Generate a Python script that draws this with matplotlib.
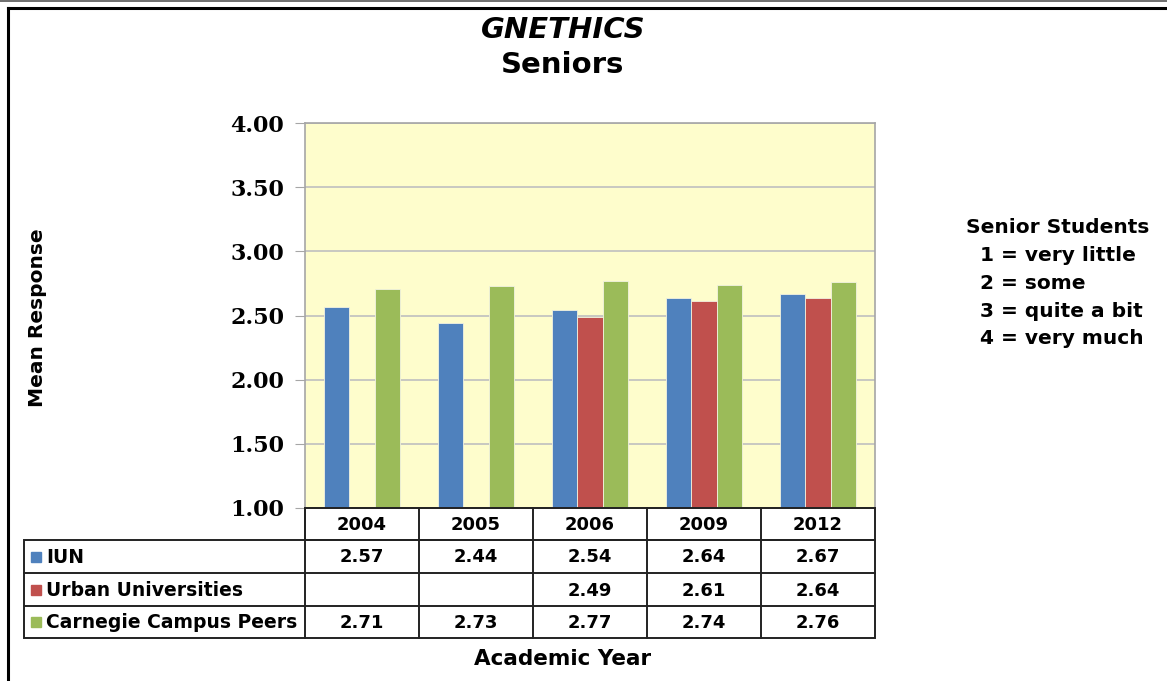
import numpy as np
import matplotlib.pyplot as plt
from matplotlib.lines import Line2D
from matplotlib.patches import Rectangle

years = ["2004", "2005", "2006", "2009", "2012"]
series = ["IUN", "Urban Universities", "Carnegie Campus Peers"]
iun = [2.57, 2.44, 2.54, 2.64, 2.67]
urban = [np.nan, np.nan, 2.49, 2.61, 2.64]
carnegie = [2.71, 2.73, 2.77, 2.74, 2.76]
colors = ["#4F81BD", "#C0504D", "#9BBB59"]
yticks = [1.0, 1.5, 2.0, 2.5, 3.0, 3.5, 4.0]
scale_lines = ["Senior Students", "  1 = very little", "  2 = some", "  3 = quite a bit", "  4 = very much"]

W, H = 1167, 681
fig = plt.figure(figsize=(W / 100, H / 100), dpi=100)
fig.patch.set_facecolor("white")

def fx(px):
    return px / W

def fy(py):
    return 1 - py / H

# outer frame lines
fig.add_artist(Line2D([0, 1], [fy(0.8), fy(0.8)], color="#555555", lw=1.2))
fig.add_artist(Line2D([fx(8), 1], [fy(8), fy(8)], color="black", lw=2.2))
fig.add_artist(Line2D([fx(8), fx(8)], [fy(8), 0], color="black", lw=2.2))

# main bar chart
x0, x1, ytop, ybot = 305, 875, 123, 508
ax = fig.add_axes([fx(x0), fy(ybot), fx(x1 - x0), (ybot - ytop) / H])
ax.set_facecolor("#FEFDCC")
x = np.arange(len(years))
bw = 0.22
for i, (vals, c) in enumerate(zip([iun, urban, carnegie], colors)):
    v = np.array(vals, dtype=float)
    ok = ~np.isnan(v)
    ax.bar(x[ok] + (i - 1) * bw, v[ok], bw, color=c, edgecolor="#F2F2E0", lw=0.6, zorder=3)
ax.set_xlim(-0.5, len(years) - 0.5)
ax.set_ylim(1.0, 4.0)
ax.set_yticks(yticks)
ax.set_yticklabels([f"{t:.2f}" for t in yticks], fontfamily="DejaVu Serif",
                   fontweight="bold", fontsize=16)
ax.set_xticks([])
ax.tick_params(axis="y", length=7, color="#A6A6A6", pad=8)
ax.grid(axis="y", color="#BFBFBF", lw=1.2, zorder=0)
for s in ax.spines.values():
    s.set_color("#A6A6A6")
    s.set_linewidth(1.2)

# data table below the chart
tab = fig.add_axes([0, 0, 1, 1])
tab.set_xlim(0, W)
tab.set_ylim(H, 0)
tab.axis("off")
col_w = (x1 - x0) / len(years)
row_tops = [508, 540, 573, 606, 638]
lab_x = 24
lc = "#222222"
# header row
tab.add_patch(Rectangle((x0, row_tops[0]), x1 - x0, row_tops[1] - row_tops[0],
                        fill=False, ec=lc, lw=1.4))
for j, yr in enumerate(years):
    cx = x0 + (j + 0.5) * col_w
    tab.text(cx, (row_tops[0] + row_tops[1]) / 2 + 1, yr, ha="center", va="center",
             fontsize=13, fontweight="bold")
    tab.plot([x0 + j * col_w] * 2, [row_tops[0], row_tops[-1]], color=lc, lw=1.4)
# body rows
tab.add_patch(Rectangle((lab_x, row_tops[1]), x1 - lab_x, row_tops[-1] - row_tops[1],
                        fill=False, ec=lc, lw=1.4))
for i, (name, vals, c) in enumerate(zip(series, [iun, urban, carnegie], colors)):
    top, bot = row_tops[i + 1], row_tops[i + 2]
    cy = (top + bot) / 2
    if i > 0:
        tab.plot([lab_x, x1], [top, top], color=lc, lw=1.4)
    tab.add_patch(Rectangle((31, cy - 5), 10, 10, color=c))
    tab.text(46, cy + 1, name, ha="left", va="center", fontsize=13.5, fontweight="bold")
    for j, v in enumerate(vals):
        if not np.isnan(v):
            tab.text(x0 + (j + 0.5) * col_w, cy + 1, f"{v:.2f}", ha="center", va="center",
                     fontsize=13, fontweight="bold")

# titles and labels
fig.text(fx(563), fy(30), "GNETHICS", ha="center", va="center", fontsize=21,
         fontweight="bold", style="italic")
fig.text(fx(563), fy(65), "Seniors", ha="center", va="center", fontsize=21, fontweight="bold")
fig.text(fx(38), fy(318), "Mean Response", ha="center", va="center", rotation=90,
         fontsize=14.5, fontweight="bold")
fig.text(fx(563), fy(659), "Academic Year", ha="center", va="center", fontsize=15.5,
         fontweight="bold")
for k, line in enumerate(scale_lines):
    fig.text(fx(966), fy(228 + 27.7 * k), line, ha="left", va="center", fontsize=14.5,
             fontweight="bold")

fig.savefig("out.png", dpi=100)
